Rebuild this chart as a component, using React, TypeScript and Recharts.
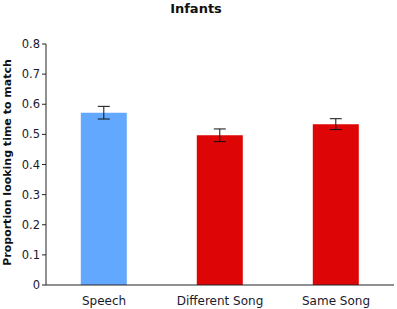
import React from "react";
import { BarChart, Bar, XAxis, YAxis, ErrorBar, Cell, Label } from "recharts";

const categories = ["Speech", "Different Song", "Same Song"];
const values = [0.572, 0.497, 0.534];
const errors = [0.021, 0.021, 0.018];
const colors = ["#62a8ff", "#dd0505", "#dd0505"];
const yTicks = [0, 0.1, 0.2, 0.3, 0.4, 0.5, 0.6, 0.7, 0.8];

const data = categories.map((name, i) => ({ name, value: values[i], err: errors[i] }));

const font = "'DejaVu Sans', Verdana, sans-serif";

function YTitle(props: any) {
  const vb = props.viewBox || { x: 0, y: 0, width: 0, height: 0 };
  const cx = vb.x + 11;
  const cy = vb.y + vb.height / 2 - 2;
  return (
    <text
      x={cx}
      y={cy}
      transform={`rotate(-90, ${cx}, ${cy})`}
      textAnchor="middle"
      style={{ fontWeight: "bold", fontSize: 11, fill: "#111", fontFamily: font }}
    >
      Proportion looking time to match
    </text>
  );
}

export default function App() {
  return (
    <div style={{ position: "absolute", left: 0, top: 0, width: 397, height: 309, background: "#fff", fontFamily: font }}>
      <div style={{ position: "absolute", left: 0, width: 392, top: 1, textAlign: "center", fontWeight: "bold", fontSize: 13, color: "#111" }}>
        Infants
      </div>
      <BarChart width={397} height={309} data={data} margin={{ top: 44, right: 3, bottom: 0, left: 0 }} barCategoryGap="30%">
        <XAxis
          dataKey="name"
          tickLine={false}
          axisLine={{ stroke: "#222" }}
          height={24}
          tick={{ fill: "#1a1a2e", fontSize: 12, fontFamily: font }}
          tickMargin={5}
        />
        <YAxis
          width={46}
          domain={[0, 0.8]}
          ticks={yTicks}
          tickFormatter={(v: number) => String(Math.round(v * 10) / 10)}
          axisLine={{ stroke: "#222" }}
          tickLine={{ stroke: "#222" }}
          tickSize={4}
          tick={{ fill: "#1a1a2e", fontSize: 11.5, fontFamily: font }}
          interval={0}
        >
          <Label content={<YTitle />} />
        </YAxis>
        <Bar dataKey="value" isAnimationActive={false}>
          {data.map((d, i) => (
            <Cell key={d.name} fill={colors[i]} />
          ))}
          <ErrorBar dataKey="err" width={6} stroke="#111" strokeWidth={1} />
        </Bar>
      </BarChart>
    </div>
  );
}
